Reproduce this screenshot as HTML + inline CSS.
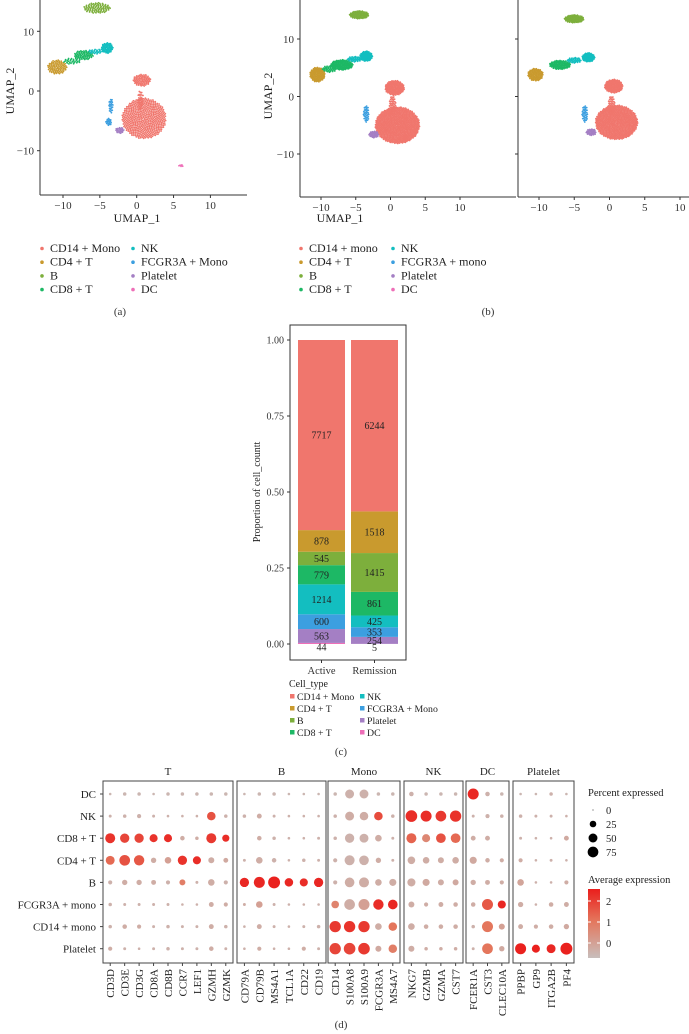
<!DOCTYPE html>
<html><head><meta charset="utf-8"><style>
html,body{margin:0;padding:0;background:#fff}
svg{display:block;font-family:"Liberation Serif",serif}
</style></head><body>
<svg id="root" width="689" height="1034" viewBox="0 0 689 1034">
<g id="pa"></g>
<g id="pb"></g>
<g id="pc"></g>
<g id="pd"></g>
</svg>
<script>
const cellTypes = ["CD14 + Mono","CD4 + T","B","CD8 + T","NK","FCGR3A + Mono","Platelet","DC"];
const cellColors = ["#F0766D","#C99A2E","#7DAF3C","#1DB865","#13BEC0","#3C9FE0","#A47FC4","#EE6FB8"];
const umapA = [[2,-5.4,13.9,1.8,0.9,90],[1,-10.8,4.0,1.3,1.2,90],[3,-7.2,6.0,1.3,0.8,70],[3,-8.8,5.0,1.2,0.5,30],[4,-4.0,7.2,0.8,0.9,60],[4,-5.6,6.6,1.0,0.4,25],
 [0,0.7,1.8,1.2,1.0,80],[0,0.5,-1.5,0.4,1.6,30],[0,1.0,-4.6,3.0,3.4,520],[5,-3.5,-2.5,0.3,1.2,25],[5,-3.8,-5.2,0.4,0.6,20],[6,-2.3,-6.6,0.6,0.5,25],[7,6.0,-12.5,0.3,0.2,6]];
const umapB1 = [[2,-4.5,14.2,1.4,0.7,110],[1,-10.5,3.8,1.1,1.3,120],[3,-7.0,5.5,1.6,0.9,150],[3,-8.8,4.8,1.0,0.6,40],[4,-3.5,7.0,0.9,0.9,90],[4,-5.2,6.5,1.0,0.5,40],
 [0,0.6,1.5,1.4,1.3,160],[0,0.3,-1.5,0.5,1.6,50],[0,1.0,-5.0,3.2,3.2,800],[5,-3.5,-3.0,0.4,1.5,40],[6,-2.4,-6.6,0.7,0.6,40]];
const umapB2 = [[2,-5.0,13.5,1.4,0.7,110],[1,-10.5,3.8,1.1,1.1,100],[3,-7.0,5.5,1.5,0.8,120],[4,-3.0,6.8,0.9,0.8,90],[4,-5.0,6.3,1.0,0.5,40],
 [0,0.6,1.8,1.3,1.2,150],[0,0.3,-1.5,0.5,1.6,50],[0,1.0,-4.5,3.0,3.0,700],[5,-3.5,-3.0,0.4,1.5,40],[6,-2.6,-6.2,0.7,0.6,40]];
const umapTicks = [-10,-5,0,5,10];
const umapYTicks = [10,0,-10];

const NS="http://www.w3.org/2000/svg";
function el(parent,tag,attrs,text){const e=document.createElementNS(NS,tag);for(const k in attrs)e.setAttribute(k,attrs[k]);if(text!==undefined)e.textContent=text;parent.appendChild(e);return e;}

function drawClusters(g,shapes,sx,sy){
  shapes.forEach(s=>{
    const [ci,cx,cy,rx,ry,n]=s;
    for(let i=0;i<n;i++){
      const r=Math.sqrt((i+0.5)/n), a=i*2.39996;
      const x=sx(cx+rx*r*Math.cos(a)), y=sy(cy+ry*r*Math.sin(a));
      const d=el(g,'circle',{cx:x.toFixed(1),cy:y.toFixed(1),r:0.9,fill:cellColors[ci]});
      
      
    }
  });
}
function axisX(g,sx,yb,x0,x1){
  const l=el(g,'line',{x1:x0,x2:x1,y1:yb,y2:yb,stroke:'#333','stroke-width':1});
  
  umapTicks.forEach(t=>{el(g,'line',{x1:sx(t),x2:sx(t),y1:yb,y2:yb+3,stroke:'#333'});
    const tx=el(g,'text',{x:sx(t),y:yb+14,'font-size':11,'text-anchor':'middle',fill:'#333'},t<0?'\u2212'+(-t):String(t));
    });
}
function axisY(g,sy,xl,y0,y1,labels){
  const l=el(g,'line',{x1:xl,x2:xl,y1:y0,y2:y1,stroke:'#333'});
  
  umapYTicks.forEach(t=>{el(g,'line',{x1:xl-3,x2:xl,y1:sy(t),y2:sy(t),stroke:'#333'});
    if(labels){const tx=el(g,'text',{x:xl-6,y:sy(t)+4,'font-size':11,'text-anchor':'end',fill:'#333'},t<0?'\u2212'+(-t):String(t));
    }});
}
function legend(g,x1,x2,y0,names){
  names.forEach((n,i)=>{const col=i<4?x1:x2,row=i%4,y=y0+row*13.7;
    const d=el(g,'circle',{cx:col,cy:y-3.5,r:1.8,fill:cellColors[i]});
    
    const t=el(g,'text',{x:col+8,y:y,'font-size':12,fill:'#222'},n);
    });
}
(function(){
  const g=document.getElementById('pa');
  const sx=v=>136.7+v*7.37, sy=v=>91-v*5.97;
  drawClusters(g,umapA,sx,sy);
  axisX(g,sx,195,40,247); axisY(g,sy,40,0,195,true);
  el(g,'text',{x:137,y:222,'font-size':12,'text-anchor':'middle',fill:'#222',},'UMAP_1');
  el(g,'text',{x:14,y:91,'font-size':12,'text-anchor':'middle',fill:'#222',transform:'rotate(-90 14 91)',},'UMAP_2');
  legend(g,42,133,252,cellTypes);
  el(g,'text',{x:120,y:315,'font-size':11,'text-anchor':'middle',fill:'#333',},'(a)');
})();
(function(){
  const g=document.getElementById('pb');
  const sy=v=>96.5-v*5.75;
  const sx1=v=>390.5+v*6.95, sx2=v=>609.5+v*7.05;
  drawClusters(g,umapB1,sx1,sy); drawClusters(g,umapB2,sx2,sy);
  axisX(g,sx1,197,300,516); axisX(g,sx2,197,518,689);
  axisY(g,sy,300,0,197,true); axisY(g,sy,518,0,197,false);
  el(g,'text',{x:340,y:222,'font-size':12,'text-anchor':'middle',fill:'#222',},'UMAP_1');
  el(g,'text',{x:272,y:96,'font-size':12,'text-anchor':'middle',fill:'#222',transform:'rotate(-90 272 96)',},'UMAP_2');
  legend(g,301,393,252,["CD14 + mono","CD4 + T","B","CD8 + T","NK","FCGR3A + mono","Platelet","DC"]);
  el(g,'text',{x:488,y:315,'font-size':11,'text-anchor':'middle',fill:'#333',},'(b)');
})();

const groups = ["Active","Remission"];
const activeCounts = [7717,878,545,779,1214,600,563,44];
const remissionCounts = [6244,1518,1415,861,425,353,254,5];
const propTicks = [0,0.25,0.5,0.75,1];
const propTickLabels = ["0.00","0.25","0.50","0.75","1.00"];
(function(){
  const g=document.getElementById('pc');
  const sy=v=>644-v*304;
  const bx=[298,351], bw=47;
  el(g,'rect',{x:290,y:325,width:116,height:335,fill:'none',stroke:'#333','stroke-width':1,});
  propTicks.forEach((t,i)=>{el(g,'line',{x1:287,x2:290,y1:sy(t),y2:sy(t),stroke:'#333'});
    const tx=el(g,'text',{x:284,y:sy(t)+3.5,'font-size':10,'text-anchor':'end',fill:'#333'},propTickLabels[i]);
    });
  [activeCounts,remissionCounts].forEach((counts,gi)=>{
    const total=counts.reduce((a,b)=>a+b,0);
    let cum=0;
    for(let k=counts.length-1;k>=0;k--){
      const p0=cum/total, p1=(cum+counts[k])/total; cum+=counts[k];
      const r=el(g,'rect',{x:bx[gi],y:sy(p1),width:bw,height:sy(p0)-sy(p1),fill:cellColors[k]});
      
      const ym=(sy(p0)+sy(p1))/2+(k===7?7:3.5);
      const t=el(g,'text',{x:bx[gi]+bw/2,y:ym,'font-size':10,'text-anchor':'middle',fill:'#222'},String(counts[k]));
      
    }
    el(g,'line',{x1:bx[gi]+bw/2,x2:bx[gi]+bw/2,y1:660,y2:663,stroke:'#333'});
    const xl=el(g,'text',{x:bx[gi]+bw/2,y:674,'font-size':10.5,'text-anchor':'middle',fill:'#333'},groups[gi]);
    
  });
  el(g,'text',{x:260,y:492,'font-size':10,'text-anchor':'middle',fill:'#222',transform:'rotate(-90 260 492)',},'Proportion of cell_countt');
  el(g,'text',{x:289,y:687,'font-size':10,fill:'#222',},'Cell_type');
  cellTypes.forEach((n,i)=>{const x=i<4?292:362,y=700+(i%4)*12;
    const s=el(g,'rect',{x:x-2,y:y-6,width:4.5,height:4.5,fill:cellColors[i]});
    
    const t=el(g,'text',{x:x+5,y:y,'font-size':9.8,fill:'#222'},n);
    });
  el(g,'text',{x:341,y:755,'font-size':11,'text-anchor':'middle',fill:'#333',},'(c)');
})();

const dotRows = ["DC","NK","CD8 + T","CD4 + T","B","FCGR3A + mono","CD14 + mono","Platelet"];
const dotGenes = ["CD3D","CD3E","CD3G","CD8A","CD8B","CCR7","LEF1","GZMH","GZMK","CD79A","CD79B","MS4A1","TCL1A","CD22","CD19","CD14","S100A8","S100A9","FCGR3A","MS4A7","NKG7","GZMB","GZMA","CST7","FCER1A","CST3","CLEC10A","PPBP","GP9","ITGA2B","PF4"];
const geneGroups = ["T","B","Mono","NK","DC","Platelet"];
const groupSizes = [9,6,5,4,3,4];
const pctDC   = [2,5,5,2,5,5,5,5,5, 2,5,5,2,2,2, 5,50,50,5,5, 10,5,5,5, 80,10,5, 2,2,5,2];
const pctNK   = [3,5,8,3,2,2,2,45,5, 5,12,3,2,2,2, 5,50,45,45,5, 90,80,75,85, 3,8,5, 5,3,3,2];
const pctCD8  = [65,55,55,40,40,10,5,65,30, 0,10,5,2,2,3, 5,55,50,25,3, 65,40,60,60, 12,12,0, 3,2,2,12];
const pctCD4  = [50,75,70,15,25,55,40,20,12, 3,25,10,2,5,3, 8,65,60,15,3, 35,25,20,25, 30,10,8, 8,2,3,2];
const pctB    = [8,15,15,12,8,20,3,25,8, 55,80,95,45,40,55, 8,60,65,25,30, 40,30,20,20, 15,12,8, 25,2,2,8];
const pctFC   = [5,3,3,3,3,2,2,12,8, 3,25,3,2,2,2, 35,75,80,70,60, 20,8,12,10, 10,80,40, 15,2,10,12];
const pctCD14 = [5,10,8,3,5,3,3,12,5, 2,12,3,2,3,5, 85,85,85,25,45, 25,10,10,10, 5,80,20, 12,8,10,15];
const pctPlt  = [8,3,2,3,5,3,3,10,3, 2,8,2,2,8,3, 85,90,90,20,45, 20,5,5,5, 3,75,15, 80,40,50,95];
const expDC   = [-.5,-.5,-.5,-.5,-.5,-.5,-.5,-.5,-.5, -.5,-.5,-.5,-.5,-.5,-.5, -.5,-.4,-.4,-.5,-.5, -.4,-.5,-.5,-.5, 2.3,-.4,-.5, -.5,-.5,-.4,-.5];
const expNK   = [-.4,-.4,-.4,-.4,-.4,-.4,-.4,1.6,-.4, -.4,-.3,-.4,-.4,-.4,-.4, -.4,-.3,-.3,1.7,-.4, 2.2,2.2,2.0,2.1, -.4,-.4,-.4, -.4,-.4,-.4,-.4];
const expCD8  = [2.1,1.8,1.8,2.1,2.2,-.3,-.3,2.0,2.2, -.4,-.3,-.4,-.4,-.4,-.4, -.4,-.4,-.4,-.3,-.4, 1.3,0.6,1.6,1.2, -.3,-.3,-.4, -.4,-.4,-.4,-.2];
const expCD4  = [1.2,1.6,1.5,-.3,0,2.1,2.2,-.3,-.2, -.4,-.3,-.4,-.4,-.4,-.4, -.4,-.4,-.4,-.3,-.4, -.3,-.3,-.3,-.3, -.2,-.3,-.3, -.3,-.4,-.4,-.4];
const expB    = [-.4,-.3,-.3,-.3,-.4,0.8,-.4,-.3,-.4, 2.3,2.3,2.4,2.3,2.2,2.3, -.4,-.3,-.3,-.3,-.3, -.3,-.2,-.3,-.2, -.3,-.3,-.3, -.1,-.4,-.4,-.3];
const expFC   = [-.4,-.4,-.4,-.4,-.4,-.4,-.4,-.3,-.3, -.3,0,-.4,-.4,-.4,-.4, 0.7,-.3,0,2.2,2.3, -.3,-.3,-.3,-.3, -.3,1.5,2.3, -.3,-.4,-.3,-.3];
const expCD14 = [-.4,-.3,-.3,-.4,-.4,-.4,-.4,-.3,-.4, -.4,-.3,-.4,-.4,-.4,-.4, 2.0,2.1,2.0,-.3,1.0, -.3,-.3,-.3,-.3, -.4,1.0,0, -.3,-.3,-.3,-.2];
const expPlt  = [-.3,-.4,-.4,-.4,-.4,-.4,-.4,-.3,-.4, -.4,-.3,-.4,-.4,-.3,-.4, 1.8,1.8,2.0,-.2,0.8, -.3,-.3,-.3,-.3, -.4,1.0,-.2, 2.4,2.4,2.3,2.4];
const pctByRow = [pctDC,pctNK,pctCD8,pctCD4,pctB,pctFC,pctCD14,pctPlt];
const expByRow = [expDC,expNK,expCD8,expCD4,expB,expFC,expCD14,expPlt];
const sizeLegend = [0,25,50,75];
const colorTicks = [2,1,0];
(function(){
  const g=document.getElementById('pd');
  const boxes=[[103,233],[237,326],[328,400],[404,463],[466,509],[513,574]];
  const sxGene=i=>{let gi=0,k=i;while(k>=groupSizes[gi]){k-=groupSizes[gi];gi++;}
    const b=boxes[gi];const step=(b[1]-b[0])/groupSizes[gi];return b[0]+step*(k+0.5);};
  const syRow=r=>794+r*22.1;
  const rad=p=>p<=0?0:0.5+Math.sqrt(p)*0.56;
  const stops=[[-0.7,[200,190,188]],[1.0,[228,118,92]],[2.45,[234,30,28]]];
  const col=v=>{v=Math.max(-0.7,Math.min(2.45,v));let a=stops[0],b=stops[1];if(v>stops[1][0]){a=stops[1];b=stops[2];}
    const t=(v-a[0])/(b[0]-a[0]);return 'rgb('+a[1].map((c,i)=>Math.round(c+(b[1][i]-c)*t)).join(',')+')';};
  boxes.forEach((b,i)=>{
    const r=el(g,'rect',{x:b[0],y:781,width:b[1]-b[0],height:182,fill:'none',stroke:'#444','stroke-width':1});
    
    const t=el(g,'text',{x:(b[0]+b[1])/2,y:775,'font-size':11,'text-anchor':'middle',fill:'#222'},geneGroups[i]);
    
  });
  dotRows.forEach((rn,r)=>{
    const t=el(g,'text',{x:96,y:syRow(r)+4,'font-size':11,'text-anchor':'end',fill:'#222'},rn);
    
    el(g,'line',{x1:100,x2:103,y1:syRow(r),y2:syRow(r),stroke:'#444'});
    dotGenes.forEach((gn,c)=>{
      const p=pctByRow[r][c]; if(p<=0)return;
      const d=el(g,'circle',{cx:sxGene(c).toFixed(1),cy:syRow(r),r:rad(p).toFixed(2),fill:col(expByRow[r][c])});
      
    });
  });
  dotGenes.forEach((gn,c)=>{const x=sxGene(c);
    el(g,'line',{x1:x,x2:x,y1:963,y2:966,stroke:'#444'});
    const t=el(g,'text',{x:x+4,y:969,'font-size':11,'text-anchor':'end',fill:'#222',transform:'rotate(-90 '+(x+4)+' 969)'},gn);
    });
  el(g,'text',{x:588,y:796,'font-size':10.5,fill:'#222',},'Percent expressed');
  sizeLegend.forEach((p,i)=>{const y=810+i*14;
    const d=el(g,'circle',{cx:593,cy:y,r:p===0?0.5:rad(p),fill:'#000'});
    
    const t=el(g,'text',{x:606,y:y+4,'font-size':10.5,fill:'#222'},String(p));
    });
  el(g,'text',{x:588,y:883,'font-size':10.5,fill:'#222',},'Average expression');
  const defs=el(g,'defs',{});const lg=el(defs,'linearGradient',{id:'cg',x1:0,y1:1,x2:0,y2:0});
  el(lg,'stop',{offset:0,'stop-color':col(-0.7)});el(lg,'stop',{offset:0.54,'stop-color':col(1.0)});el(lg,'stop',{offset:1,'stop-color':col(2.45)});
  el(g,'rect',{x:588,y:889,width:12,height:69,fill:'url(#cg)',});
  const cy=v=>943-v*21;
  colorTicks.forEach(v=>{el(g,'line',{x1:588,x2:591,y1:cy(v),y2:cy(v),stroke:'#fff'});el(g,'line',{x1:597,x2:600,y1:cy(v),y2:cy(v),stroke:'#fff'});
    const t=el(g,'text',{x:606,y:cy(v)+4,'font-size':10.5,fill:'#222'},String(v));
    });
  el(g,'text',{x:341,y:1028,'font-size':11,'text-anchor':'middle',fill:'#333',},'(d)');
})();
</script>
</body></html>
